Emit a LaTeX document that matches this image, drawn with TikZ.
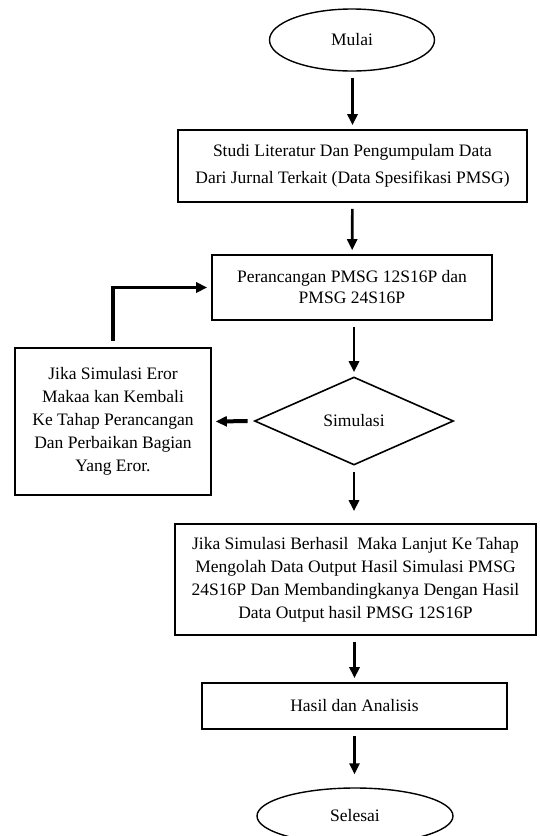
\documentclass[tikz,border=0pt]{standalone}
\usepackage{fontspec}
\setmainfont{Liberation Serif}
\usetikzlibrary{arrows.meta, shapes}

\begin{document}
\begin{tikzpicture}[
    x=1pt, y=-1pt,
    every node/.style={font=\fontsize{17.5}{23}\selectfont},
    stepbox/.style={
        rectangle,
        draw,
        line width=1.6pt,
        align=center,
        inner sep=0pt
    },
    terminal/.style={ellipse, draw, line width=1.4pt, inner sep=0pt},
    decision/.style={diamond, draw, line width=1.6pt, inner sep=0pt},
    arrow/.style={-{Triangle[length=11pt,width=10pt]}, line width=2.6pt,
        shorten <=6pt, shorten >=4pt}
]
\useasboundingbox (0,0) rectangle (539,836);

\node[terminal, minimum width=165, minimum height=62] (mulai) at (352,40) {Mulai};

\node[stepbox, minimum width=349, minimum height=72,
    font=\fontsize{17.5}{27}\selectfont] (studi) at (352.5,166) {
    Studi Literatur Dan Pengumpulam Data\\
    Dari Jurnal Terkait (Data Spesifikasi PMSG)
};

\node[stepbox, minimum width=280, minimum height=65,
    font=\fontsize{17.5}{21}\selectfont] (rancang) at (352,287.5) {
    Perancangan PMSG 12S16P dan\\
    PMSG 24S16P
};

\node[decision, minimum width=199, minimum height=88] (simulasi) at (354,421) {Simulasi};

\node[stepbox, minimum width=196, minimum height=147] (eror) at (113,421.5) {
    Jika Simulasi Eror\\
    Makaa kan Kembali\\
    Ke Tahap Perancangan\\
    Dan Perbaikan Bagian\\
    Yang Eror.
};

\node[stepbox, minimum width=361, minimum height=111] (olah) at (355.5,579.5) {
    Jika Simulasi Berhasil~ Maka Lanjut Ke Tahap\\
    Mengolah Data Output Hasil Simulasi PMSG\\
    24S16P Dan Membandingkanya Dengan Hasil\\
    Data Output hasil PMSG 12S16P
};

\node[stepbox, minimum width=305, minimum height=46] (analisis) at (354.5,706) {Hasil dan Analisis};

\node[terminal, minimum width=196, minimum height=56] (selesai) at (355,816) {Selesai};

\draw[arrow] (mulai.south -| studi.north) -- (studi.north);
\draw[arrow] (studi) -- (rancang);
\draw[arrow] (rancang.south -| simulasi.north) -- (simulasi.north);
\draw[arrow, shorten >=12pt] (simulasi.south) -- (simulasi.south |- olah.north);
\draw[arrow] (olah.south -| analisis.north) -- (analisis.north);
\draw[arrow, shorten >=13pt] (analisis.south) -- (analisis.south |- selesai.north);

\draw[arrow, line width=4pt] (simulasi.west) -- (eror.east);
\draw[arrow, line width=3.2pt, rounded corners=0pt] (eror.north) |- (rancang.west);

\end{tikzpicture}
\end{document}
